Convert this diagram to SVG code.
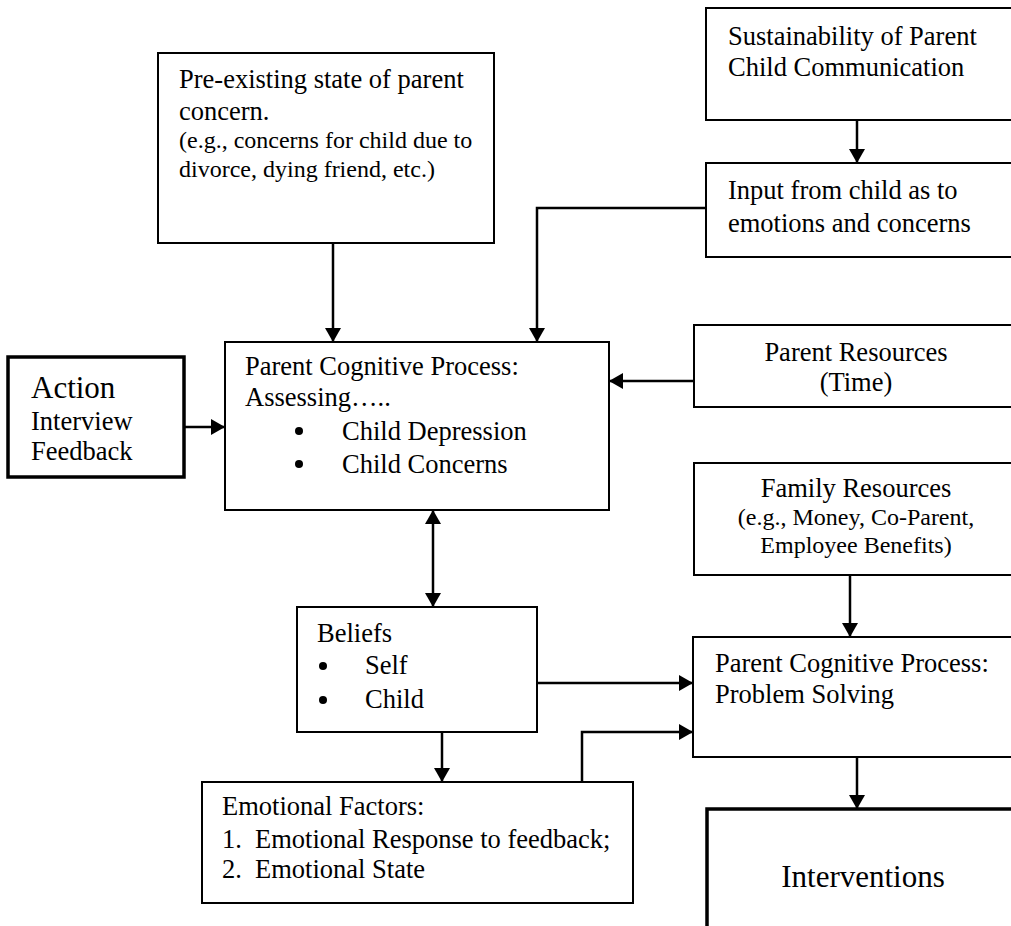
<svg xmlns="http://www.w3.org/2000/svg" width="1011" height="926" viewBox="0 0 1011 926">
  <defs>
    <marker id="arrow" viewBox="0 0 14 16" refX="14" refY="8" markerWidth="14" markerHeight="16" markerUnits="userSpaceOnUse" orient="auto-start-reverse">
      <path d="M0,0 L14,8 L0,16 Z" fill="#000"/>
    </marker>
  </defs>
  <style>
    .box { fill: #fff; stroke: #000; stroke-width: 2; }
    .thick { fill: #fff; stroke: #000; stroke-width: 3.5; }
    text { font-family: "Liberation Serif", "Times New Roman", serif; fill: #000; }
    .t { font-size: 26.5px; }
    .s { font-size: 24px; }
    .big { font-size: 31px; }
    .c { text-anchor: middle; }
    .link { fill: none; stroke: #000; stroke-width: 2.5; }
  </style>
  <rect width="1011" height="926" fill="#fff"/>

  <g id="connectors">
    <line class="link" x1="857" y1="120" x2="857" y2="163" marker-end="url(#arrow)"/>
    <polyline class="link" points="706,208 537,208 537,342" marker-end="url(#arrow)"/>
    <line class="link" x1="333" y1="243" x2="333" y2="342" marker-end="url(#arrow)"/>
    <line class="link" x1="184" y1="427" x2="225" y2="427" marker-end="url(#arrow)"/>
    <line class="link" x1="694" y1="381" x2="609" y2="381" marker-end="url(#arrow)"/>
    <line class="link" x1="433" y1="510" x2="433" y2="607" marker-start="url(#arrow)" marker-end="url(#arrow)"/>
    <line class="link" x1="442" y1="732" x2="442" y2="782" marker-end="url(#arrow)"/>
    <line class="link" x1="537" y1="683" x2="693" y2="683" marker-end="url(#arrow)"/>
    <polyline class="link" points="582,782 582,732 693,732" marker-end="url(#arrow)"/>
    <line class="link" x1="850" y1="575" x2="850" y2="637" marker-end="url(#arrow)"/>
    <line class="link" x1="857" y1="757" x2="857" y2="809" marker-end="url(#arrow)"/>
  </g>

  <g id="sustainability">
    <rect class="box" x="706" y="8" width="315" height="112"/>
    <text class="t" x="728" y="45">Sustainability of Parent</text>
    <text class="t" x="728" y="76">Child Communication</text>
  </g>

  <g id="input-from-child">
    <rect class="box" x="706" y="163" width="315" height="94"/>
    <text class="t" x="728" y="199">Input from child as to</text>
    <text class="t" x="728" y="232">emotions and concerns</text>
  </g>

  <g id="pre-existing">
    <rect class="box" x="158" y="53" width="336" height="190"/>
    <text class="t" x="179" y="88">Pre-existing state of parent</text>
    <text class="t" x="179" y="120">concern.</text>
    <text class="s" x="179" y="148">(e.g., concerns for child due to</text>
    <text class="s" x="179" y="177">divorce, dying friend, etc.)</text>
  </g>

  <g id="action">
    <rect class="thick" x="8" y="357" width="176" height="120"/>
    <text class="big" x="31" y="398">Action</text>
    <text class="t" x="31" y="430">Interview</text>
    <text class="t" x="31" y="460">Feedback</text>
  </g>

  <g id="assessing">
    <rect class="box" x="225" y="342" width="384" height="168"/>
    <text class="t" x="245" y="375">Parent Cognitive Process:</text>
    <text class="t" x="245" y="406">Assessing…..</text>
    <circle cx="299" cy="431" r="4"/>
    <text class="t" x="342" y="440">Child Depression</text>
    <circle cx="299" cy="464" r="4"/>
    <text class="t" x="342" y="473">Child Concerns</text>
  </g>

  <g id="parent-resources">
    <rect class="box" x="694" y="325" width="325" height="82"/>
    <text class="t c" x="856" y="361">Parent Resources</text>
    <text class="t c" x="856" y="391">(Time)</text>
  </g>

  <g id="family-resources">
    <rect class="box" x="694" y="463" width="325" height="112"/>
    <text class="t c" x="856" y="497">Family Resources</text>
    <text class="s c" x="856" y="525">(e.g., Money, Co-Parent,</text>
    <text class="s c" x="856" y="553">Employee Benefits)</text>
  </g>

  <g id="beliefs">
    <rect class="box" x="297" y="607" width="240" height="125"/>
    <text class="t" x="317" y="642">Beliefs</text>
    <circle cx="323" cy="666" r="4"/>
    <text class="t" x="365" y="674">Self</text>
    <circle cx="323" cy="700" r="4"/>
    <text class="t" x="365" y="708">Child</text>
  </g>

  <g id="problem-solving">
    <rect class="box" x="693" y="637" width="326" height="120"/>
    <text class="t" x="715" y="672">Parent Cognitive Process:</text>
    <text class="t" x="715" y="703">Problem Solving</text>
  </g>

  <g id="emotional-factors">
    <rect class="box" x="202" y="782" width="431" height="121"/>
    <text class="t" x="222" y="815">Emotional Factors:</text>
    <text class="t" x="222" y="848">1.</text>
    <text class="t" x="255" y="848">Emotional Response to feedback;</text>
    <text class="t" x="222" y="878">2.</text>
    <text class="t" x="255" y="878">Emotional State</text>
  </g>

  <g id="interventions">
    <rect class="thick" x="707" y="809" width="320" height="140"/>
    <text class="big c" x="863" y="887">Interventions</text>
  </g>
</svg>
